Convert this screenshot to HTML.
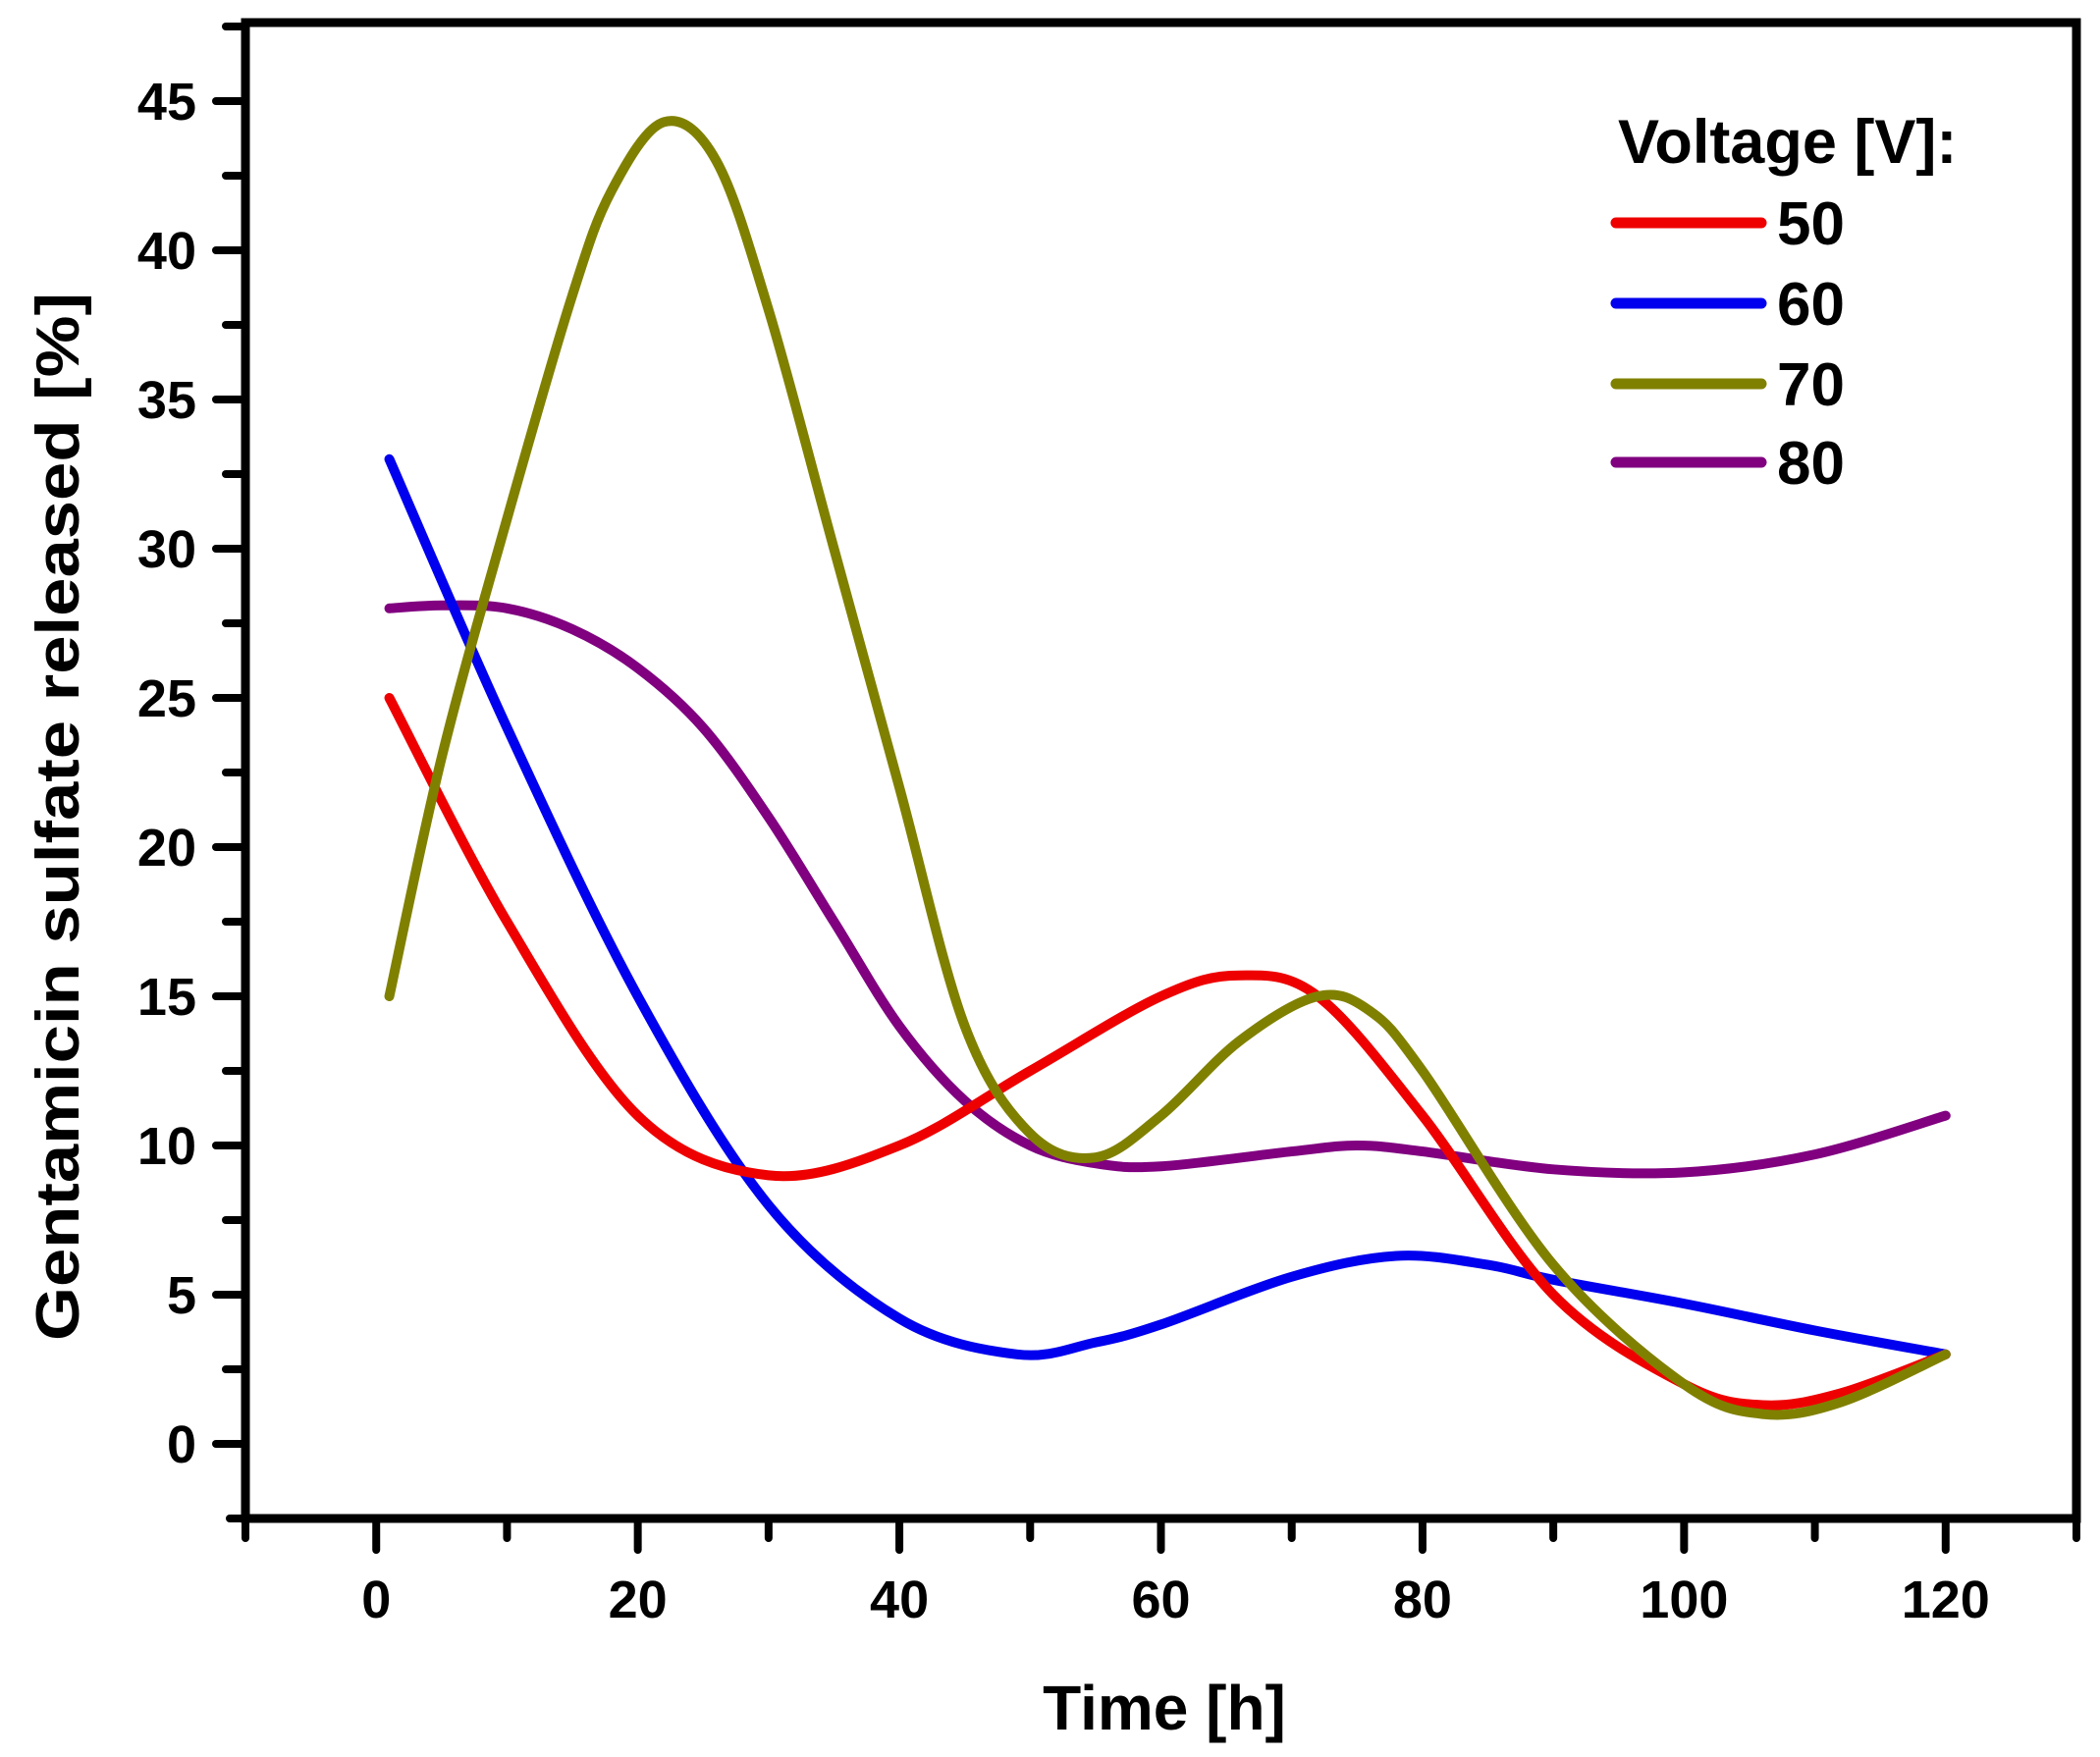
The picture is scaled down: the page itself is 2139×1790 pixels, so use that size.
<!DOCTYPE html>
<html><head><meta charset="utf-8"><style>
html,body{margin:0;padding:0;background:#fff;}
svg{display:block;}
text{font-family:"Liberation Sans",Arial,sans-serif;font-weight:bold;fill:#000;}
</style></head><body>
<svg id="chart" width="2139" height="1790" viewBox="0 0 2139 1790" xmlns="http://www.w3.org/2000/svg">
<g id="axes"></g>
<g id="series"></g>
<g id="legend"></g>
</svg>
<script>
const xTicks = [0, 20, 40, 60, 80, 100, 120];
const yTicks = [0, 5, 10, 15, 20, 25, 30, 35, 40, 45];
const seriesNames = ["50", "60", "70", "80"];
const seriesColors = ["#ee0000", "#0000ee", "#808000", "#800080"];
const t50 = [1, 10, 20, 30, 40, 50, 60, 66, 72, 80, 90, 100, 106, 112, 120];
const v50 = [25, 17.5, 11, 9, 10, 12.5, 15, 15.7, 15, 11, 5, 2, 1.3, 1.7, 3];
const t60 = [1, 10, 20, 30, 40, 49, 55, 60, 70, 78, 85, 90, 100, 110, 120];
const v60 = [33, 24, 15, 8, 4.2, 3, 3.4, 4, 5.6, 6.3, 6, 5.5, 4.7, 3.8, 3];
const t70 = [1, 5, 10, 15, 18, 22, 26, 30, 35, 40, 45, 50, 55, 60, 66, 72, 76, 80, 90, 100, 106, 112, 120];
const v70 = [15, 23, 31, 38.5, 42, 44.3, 43, 38, 30, 22, 14, 10.4, 9.6, 11, 13.5, 15, 14.5, 12.5, 6, 2, 1, 1.4, 3];
const t80 = [1, 5, 10, 15, 20, 25, 30, 35, 40, 45, 50, 55, 60, 70, 75, 80, 90, 100, 110, 120];
const v80 = [28, 28.1, 28, 27.3, 26, 24, 21, 17.5, 14, 11.5, 10, 9.4, 9.3, 9.8, 10, 9.8, 9.2, 9.1, 9.7, 11];

const NS = "http://www.w3.org/2000/svg";
const L = 250, R = 2115, T = 23, B = 1547;
const xMin = -10, xMax = 130;
function X(v){ return L + (v - xMin) / (xMax - xMin) * (R - L); }
function Y(v){ return 1471 - v * 30.4; }
function mk(tag, attrs, parent){ const e = document.createElementNS(NS, tag); for (const k in attrs) e.setAttribute(k, attrs[k]); parent.appendChild(e); return e; }

const axes = document.getElementById("axes");
const frame = mk("rect", {x:L, y:T, width:R-L, height:B-T, fill:"none", stroke:"#000", "stroke-width":9}, axes);


for (let v = 0; v <= 47.5; v += 2.5) {
  const major = Math.abs(v % 5) < 1e-9;
  const tk = mk("line", {x1:L - (major ? 30 : 20), x2:L, y1:Y(v), y2:Y(v), stroke:"#000", "stroke-width":8, "stroke-linecap":"round"}, axes);
  
  
}
const ytB = mk("line", {x1:L-16, x2:L, y1:B, y2:B, stroke:"#000", "stroke-width":8, "stroke-linecap":"round"}, axes);


yTicks.forEach(v => {
  const t = mk("text", {x:200, y:Y(v)+19, "text-anchor":"end", "font-size":54}, axes);
  t.textContent = v;
  
  
});
for (let v = -10; v <= 130; v += 10) {
  const major = v % 20 === 0;
  const tk = mk("line", {x1:X(v), x2:X(v), y1:B, y2:B + (major ? 32 : 20), stroke:"#000", "stroke-width":8, "stroke-linecap":"round"}, axes);
  
  
}
xTicks.forEach(v => {
  const t = mk("text", {x:X(v), y:1648, "text-anchor":"middle", "font-size":54}, axes);
  t.textContent = v;
  
  
});
const xt = mk("text", {x:1186, y:1762, "text-anchor":"middle", "font-size":64}, axes);
xt.textContent = "Time [h]";


const yt = mk("text", {x:0, y:0, "text-anchor":"middle", "font-size":62, transform:"translate(80,832) rotate(-90)", textLength:1068, lengthAdjust:"spacingAndGlyphs"}, axes);
yt.textContent = "Gentamicin sulfate released [%]";



function pathFor(ts, vs){
  const p = ts.map((t,i)=>[X(t), Y(vs[i])]);
  let d = "M" + p[0][0] + "," + p[0][1];
  for (let i = 0; i < p.length - 1; i++) {
    const p0 = p[i-1] || p[i], p1 = p[i], p2 = p[i+1], p3 = p[i+2] || p2;
    const c1 = [p1[0] + (p2[0]-p0[0])/6, p1[1] + (p2[1]-p0[1])/6];
    const c2 = [p2[0] - (p3[0]-p1[0])/6, p2[1] - (p3[1]-p1[1])/6];
    d += " C" + c1.join(",") + " " + c2.join(",") + " " + p2.join(",");
  }
  return d;
}
const sg = document.getElementById("series");
const allT = [t50, t60, t70, t80], allV = [v50, v60, v70, v80];
[3, 1, 0, 2].forEach(i => {
  const p = mk("path", {d:pathFor(allT[i], allV[i]), fill:"none", stroke:seriesColors[i], "stroke-width":10, "stroke-linecap":"round", "stroke-linejoin":"round"}, sg);
  
  
});

const lg = document.getElementById("legend");
const lt = mk("text", {x:1648, y:166, "font-size":63}, lg);
lt.textContent = "Voltage [V]:";


const ly = [227, 309, 391, 471];
seriesNames.forEach((n, i) => {
  const ln = mk("line", {x1:1646, x2:1794, y1:ly[i], y2:ly[i], stroke:seriesColors[i], "stroke-width":11, "stroke-linecap":"round"}, lg);
  
  
  const tx = mk("text", {x:1810, y:ly[i]+22, "font-size":62}, lg);
  tx.textContent = n;
  
  
});
</script>
</body></html>
